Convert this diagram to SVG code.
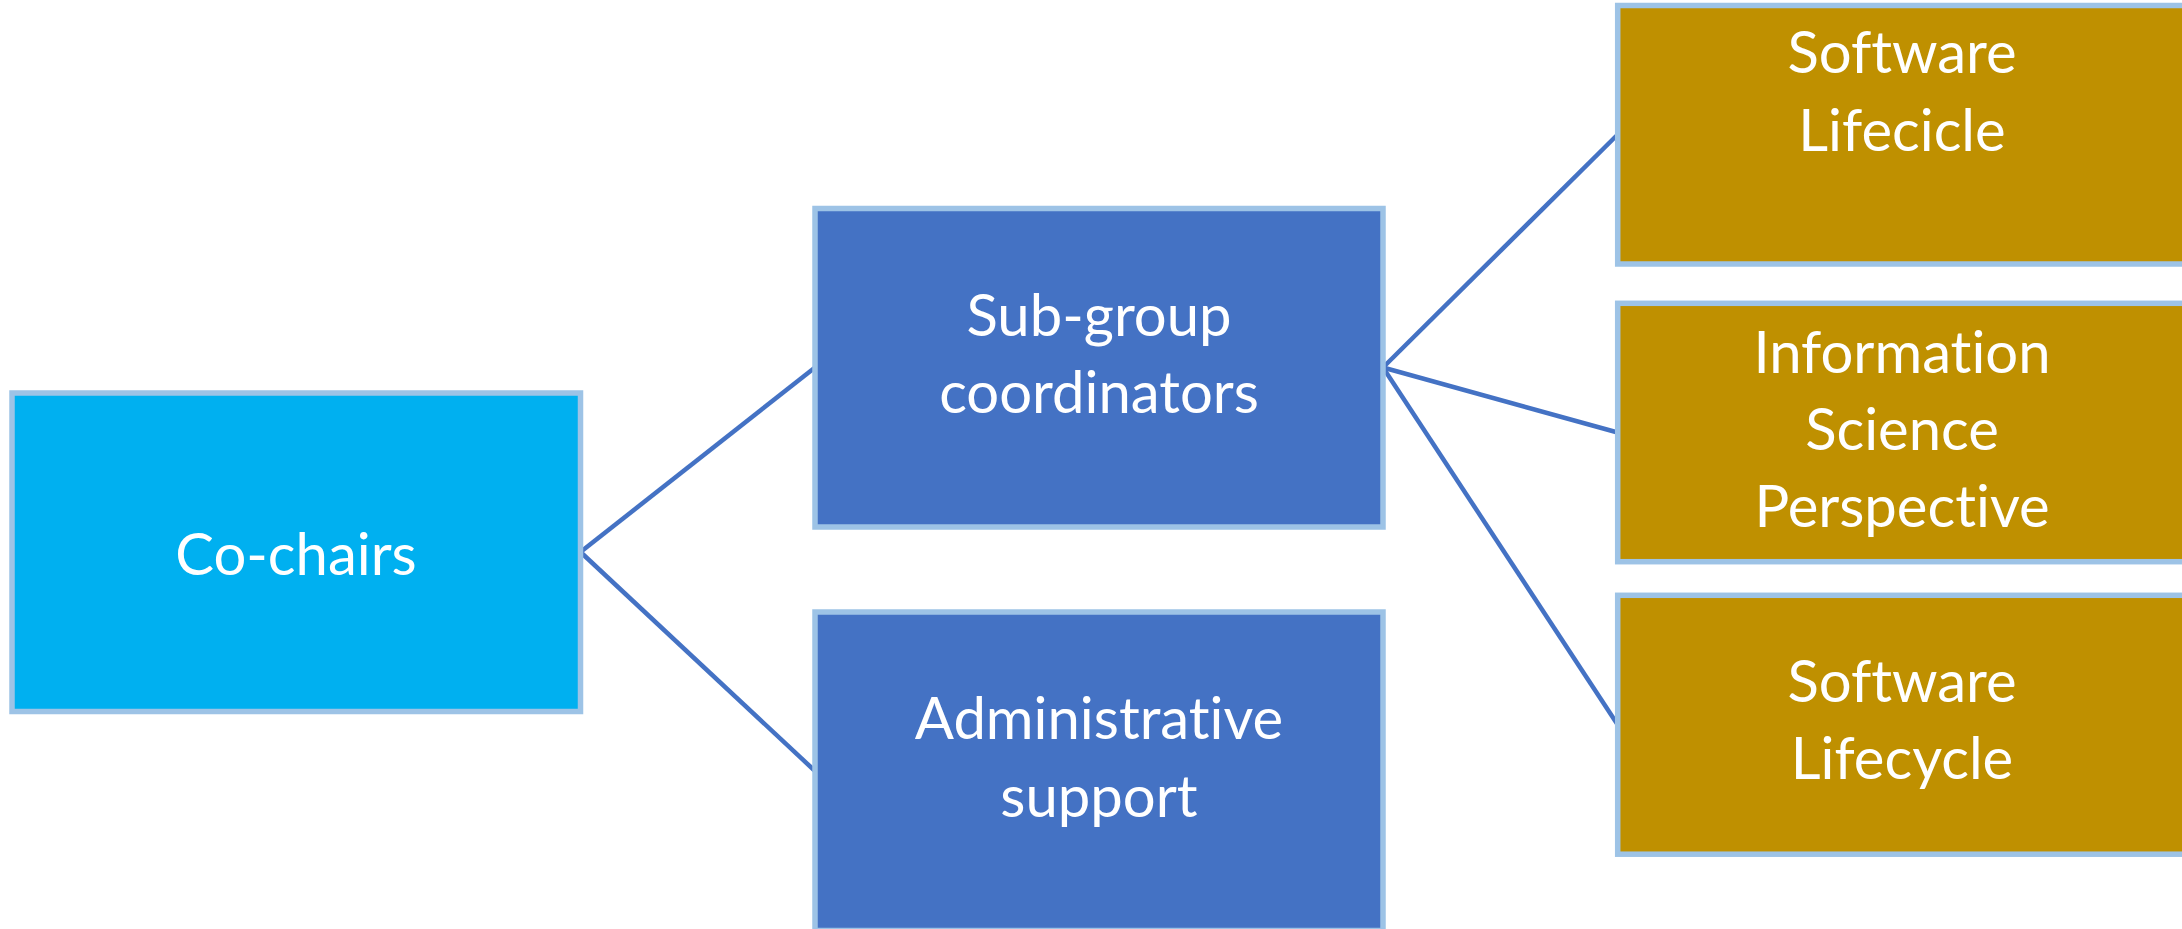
<svg xmlns="http://www.w3.org/2000/svg" width="2182" height="929" viewBox="0 0 2182 929">
<style>
.box{stroke:#9DC3E6;stroke-width:5.5}
.cyan{fill:#00B0F0}
.blue{fill:#4472C4}
.gold{fill:#BF9000}
.lbl{font-family:Lato,"Open Sans","Liberation Sans",sans-serif;font-size:58px;fill:#FFFFFF;text-anchor:middle;font-variant-ligatures:none;font-feature-settings:"liga" 0,"clig" 0,"dlig" 0}
.conn{stroke:#4472C4;stroke-width:4.5;fill:none}
</style>
<rect width="2182" height="929" fill="#FFFFFF"/>
<g id="connectors">
<line class="conn" x1="580.5" y1="552" x2="815" y2="367.5"/>
<line class="conn" x1="580.5" y1="552" x2="815" y2="771"/>
<line class="conn" x1="1383" y1="367.5" x2="1617.7" y2="134.5"/>
<line class="conn" x1="1383" y1="367.5" x2="1617.7" y2="432.5"/>
<line class="conn" x1="1383" y1="367.5" x2="1617.7" y2="724.8"/>
</g>
<g id="co-chairs">
<rect class="box cyan" x="12" y="393" width="568.5" height="318.5"/>
<text class="lbl" x="296" y="575">Co-chairs</text>
</g>
<g id="sub-group-coordinators">
<rect class="box blue" x="815" y="208.5" width="568" height="318.5"/>
<text class="lbl" x="1099" y="336">Sub-group</text>
<text class="lbl" x="1099" y="413">coordinators</text>
</g>
<g id="administrative-support">
<rect class="box blue" x="815" y="612" width="568" height="318.5"/>
<text class="lbl" x="1099" y="739">Administrative</text>
<text class="lbl" x="1099" y="817">support</text>
</g>
<g id="software-lifecicle">
<rect class="box gold" x="1617.7" y="5.5" width="568" height="258.5"/>
<text class="lbl" x="1902" y="73">Software</text>
<text class="lbl" x="1902" y="151">Lifecicle</text>
</g>
<g id="information-science-perspective">
<rect class="box gold" x="1617.7" y="303.3" width="568" height="258.4"/>
<text class="lbl" x="1902" y="373">Information</text>
<text class="lbl" x="1902" y="450">Science</text>
<text class="lbl" x="1902" y="527">Perspective</text>
</g>
<g id="software-lifecycle">
<rect class="box gold" x="1617.7" y="595.3" width="568" height="258.9"/>
<text class="lbl" x="1902" y="702">Software</text>
<text class="lbl" x="1902" y="779">Lifecycle</text>
</g>
</svg>
